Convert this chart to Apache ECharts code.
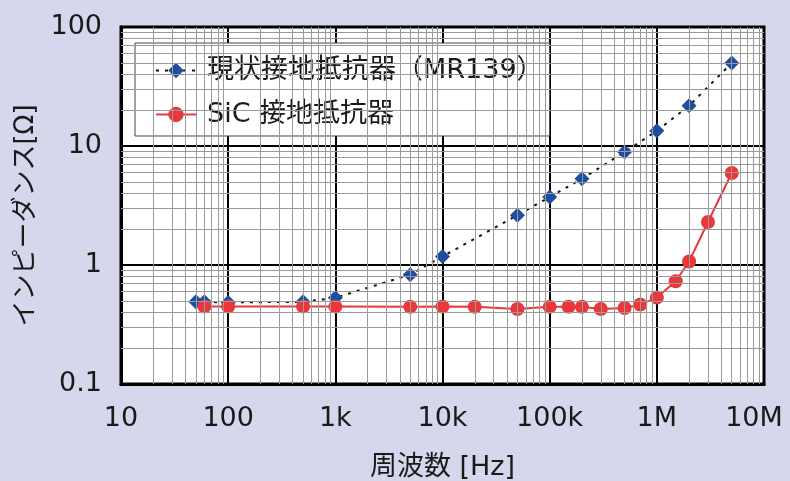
<!DOCTYPE html>
<html>
<head>
<meta charset="utf-8">
<script src="https://cdn.jsdelivr.net/npm/echarts@6/dist/echarts.min.js"></script>
<style>
html,body{margin:0;padding:0;background:#d6d6ed;}
#c{width:790px;height:481px;}
</style>
</head>
<body>
<div id="c"></div>
<script>
// ---- data ----
const blueName = '現状接地抵抗器（MR139）';
const redName = 'SiC 接地抵抗器';
const blueX = [50, 60, 100, 500, 1000, 5000, 10000, 50000, 100000, 200000, 500000, 1000000, 2000000, 5000000];
const blueY = [0.49, 0.49, 0.485, 0.49, 0.53, 0.83, 1.18, 2.62, 3.73, 5.3, 8.9, 13.4, 21.8, 49.8];
const redX = [60, 100, 500, 1000, 5000, 10000, 20000, 50000, 100000, 150000, 200000, 300000, 500000, 700000, 1000000, 1500000, 2000000, 3000000, 5000000];
const redY = [0.447, 0.447, 0.447, 0.447, 0.445, 0.447, 0.445, 0.427, 0.445, 0.445, 0.445, 0.427, 0.435, 0.465, 0.532, 0.73, 1.07, 2.3, 5.93];
const xTickLabels = ['10', '100', '1k', '10k', '100k', '1M', '10M'];
const yTickLabels = ['0.1', '1', '10', '100'];
const xName = '周波数 [Hz]';
const yName = 'インピーダンス[Ω]';

// minor grid positions (2..9 within each decade)
const xMinor = [];
for (let d = 1; d < 7; d++) for (let m = 2; m <= 9; m++) xMinor.push(m * Math.pow(10, d));
const yMinor = [];
for (let d = -1; d < 2; d++) for (let m = 2; m <= 9; m++) yMinor.push(+(m * Math.pow(10, d)).toPrecision(3));

const FONT = '"DejaVu Sans", "Noto Sans CJK JP", sans-serif';
const BLUE = '#1f4e9e', RED = '#e8383c', TXT = '#1a1a1a';
const chart = echarts.init(document.getElementById('c'), null, {renderer: 'canvas'});
const minorLines = xMinor.map(v => ({xAxis: v})).concat(yMinor.map(v => ({yAxis: v})));
const blueLine = {color: '#111', width: 2, type: [3, 6]};
const redLine = {color: RED, width: 2, type: 'solid'};
const blueItem = {color: BLUE, borderColor: BLUE, borderWidth: 0, opacity: 1};
const redItem = {color: RED, borderColor: RED, borderWidth: 0, opacity: 1};

chart.setOption({
  backgroundColor: '#d6d6ed',
  animation: false,
  textStyle: {fontFamily: FONT},
  grid: {left: 121, right: 26, top: 27, bottom: 97, outerBoundsMode: 'none', containLabel: false,
    show: true, backgroundColor: '#ffffff', borderColor: '#000', borderWidth: 3},
  legend: {
    left: 135, top: 43, orient: 'vertical',
    backgroundColor: '#ffffff', borderColor: '#444', borderWidth: 1,
    padding: [14, 6, 8, 20], itemGap: 17, itemWidth: 40, itemHeight: 18,
    textStyle: {fontSize: 27, color: TXT, fontFamily: FONT, padding: [0, 0, 0, 6]},
    data: [
      {name: blueName, itemStyle: {color: BLUE, borderColor: BLUE, borderWidth: 1}, lineStyle: blueLine},
      {name: redName, itemStyle: {color: RED, borderColor: RED, borderWidth: 1}, lineStyle: redLine}
    ]
  },
  xAxis: {
    type: 'log', logBase: 10, min: 10, max: 10000000,
    name: xName, nameLocation: 'middle', nameGap: 70,
    nameTextStyle: {fontSize: 27, color: TXT, fontFamily: FONT},
    axisLine: {show: true, lineStyle: {color: '#000', width: 3}},
    axisTick: {show: false},
    axisLabel: {fontSize: 27, color: TXT, margin: 21, fontFamily: FONT,
      formatter: v => {
        const i = Math.round(Math.log10(v)) - 1;
        return i === xTickLabels.length - 1 ? '{last|' + xTickLabels[i] + '}' : xTickLabels[i];
      },
      rich: {last: {fontSize: 27, color: TXT, fontFamily: FONT, padding: [0, 20, 0, 0]}}
    },
    splitLine: {show: true, lineStyle: {color: '#000', width: 2}}
  },
  yAxis: {
    type: 'log', logBase: 10, min: 0.1, max: 100,
    name: yName, nameLocation: 'middle', nameGap: 76, nameRotate: 90,
    nameTextStyle: {fontSize: 26, color: TXT, fontFamily: FONT, padding: [0, 20, 0, 0]},
    axisLine: {show: true, lineStyle: {color: '#000', width: 3}},
    axisTick: {show: false},
    axisLabel: {fontSize: 27, color: TXT, margin: 19, fontFamily: FONT, padding: [0, 0, 8, 0],
      formatter: v => yTickLabels[Math.round(Math.log10(v)) + 1]},
    splitLine: {show: true, lineStyle: {color: '#000', width: 2}}
  },
  series: [
    {
      type: 'line', name: '_grid', data: [], z: 1, silent: true,
      markLine: {
        silent: true, symbol: ['none', 'none'], label: {show: false}, animation: false,
        lineStyle: {color: '#9a9a9a', width: 1, type: 'solid'},
        emphasis: {disabled: true},
        data: minorLines
      }
    },
    {
      type: 'line', name: blueName, z: 3,
      data: blueX.map((x, i) => [x, blueY[i]]),
      symbol: 'diamond', symbolSize: 15,
      itemStyle: blueItem,
      lineStyle: blueLine
    },
    {
      type: 'line', name: redName, z: 4,
      data: redX.map((x, i) => [x, redY[i]]),
      symbol: 'circle', symbolSize: 14,
      itemStyle: redItem,
      lineStyle: redLine
    }
  ]
});
</script>
</body>
</html>
